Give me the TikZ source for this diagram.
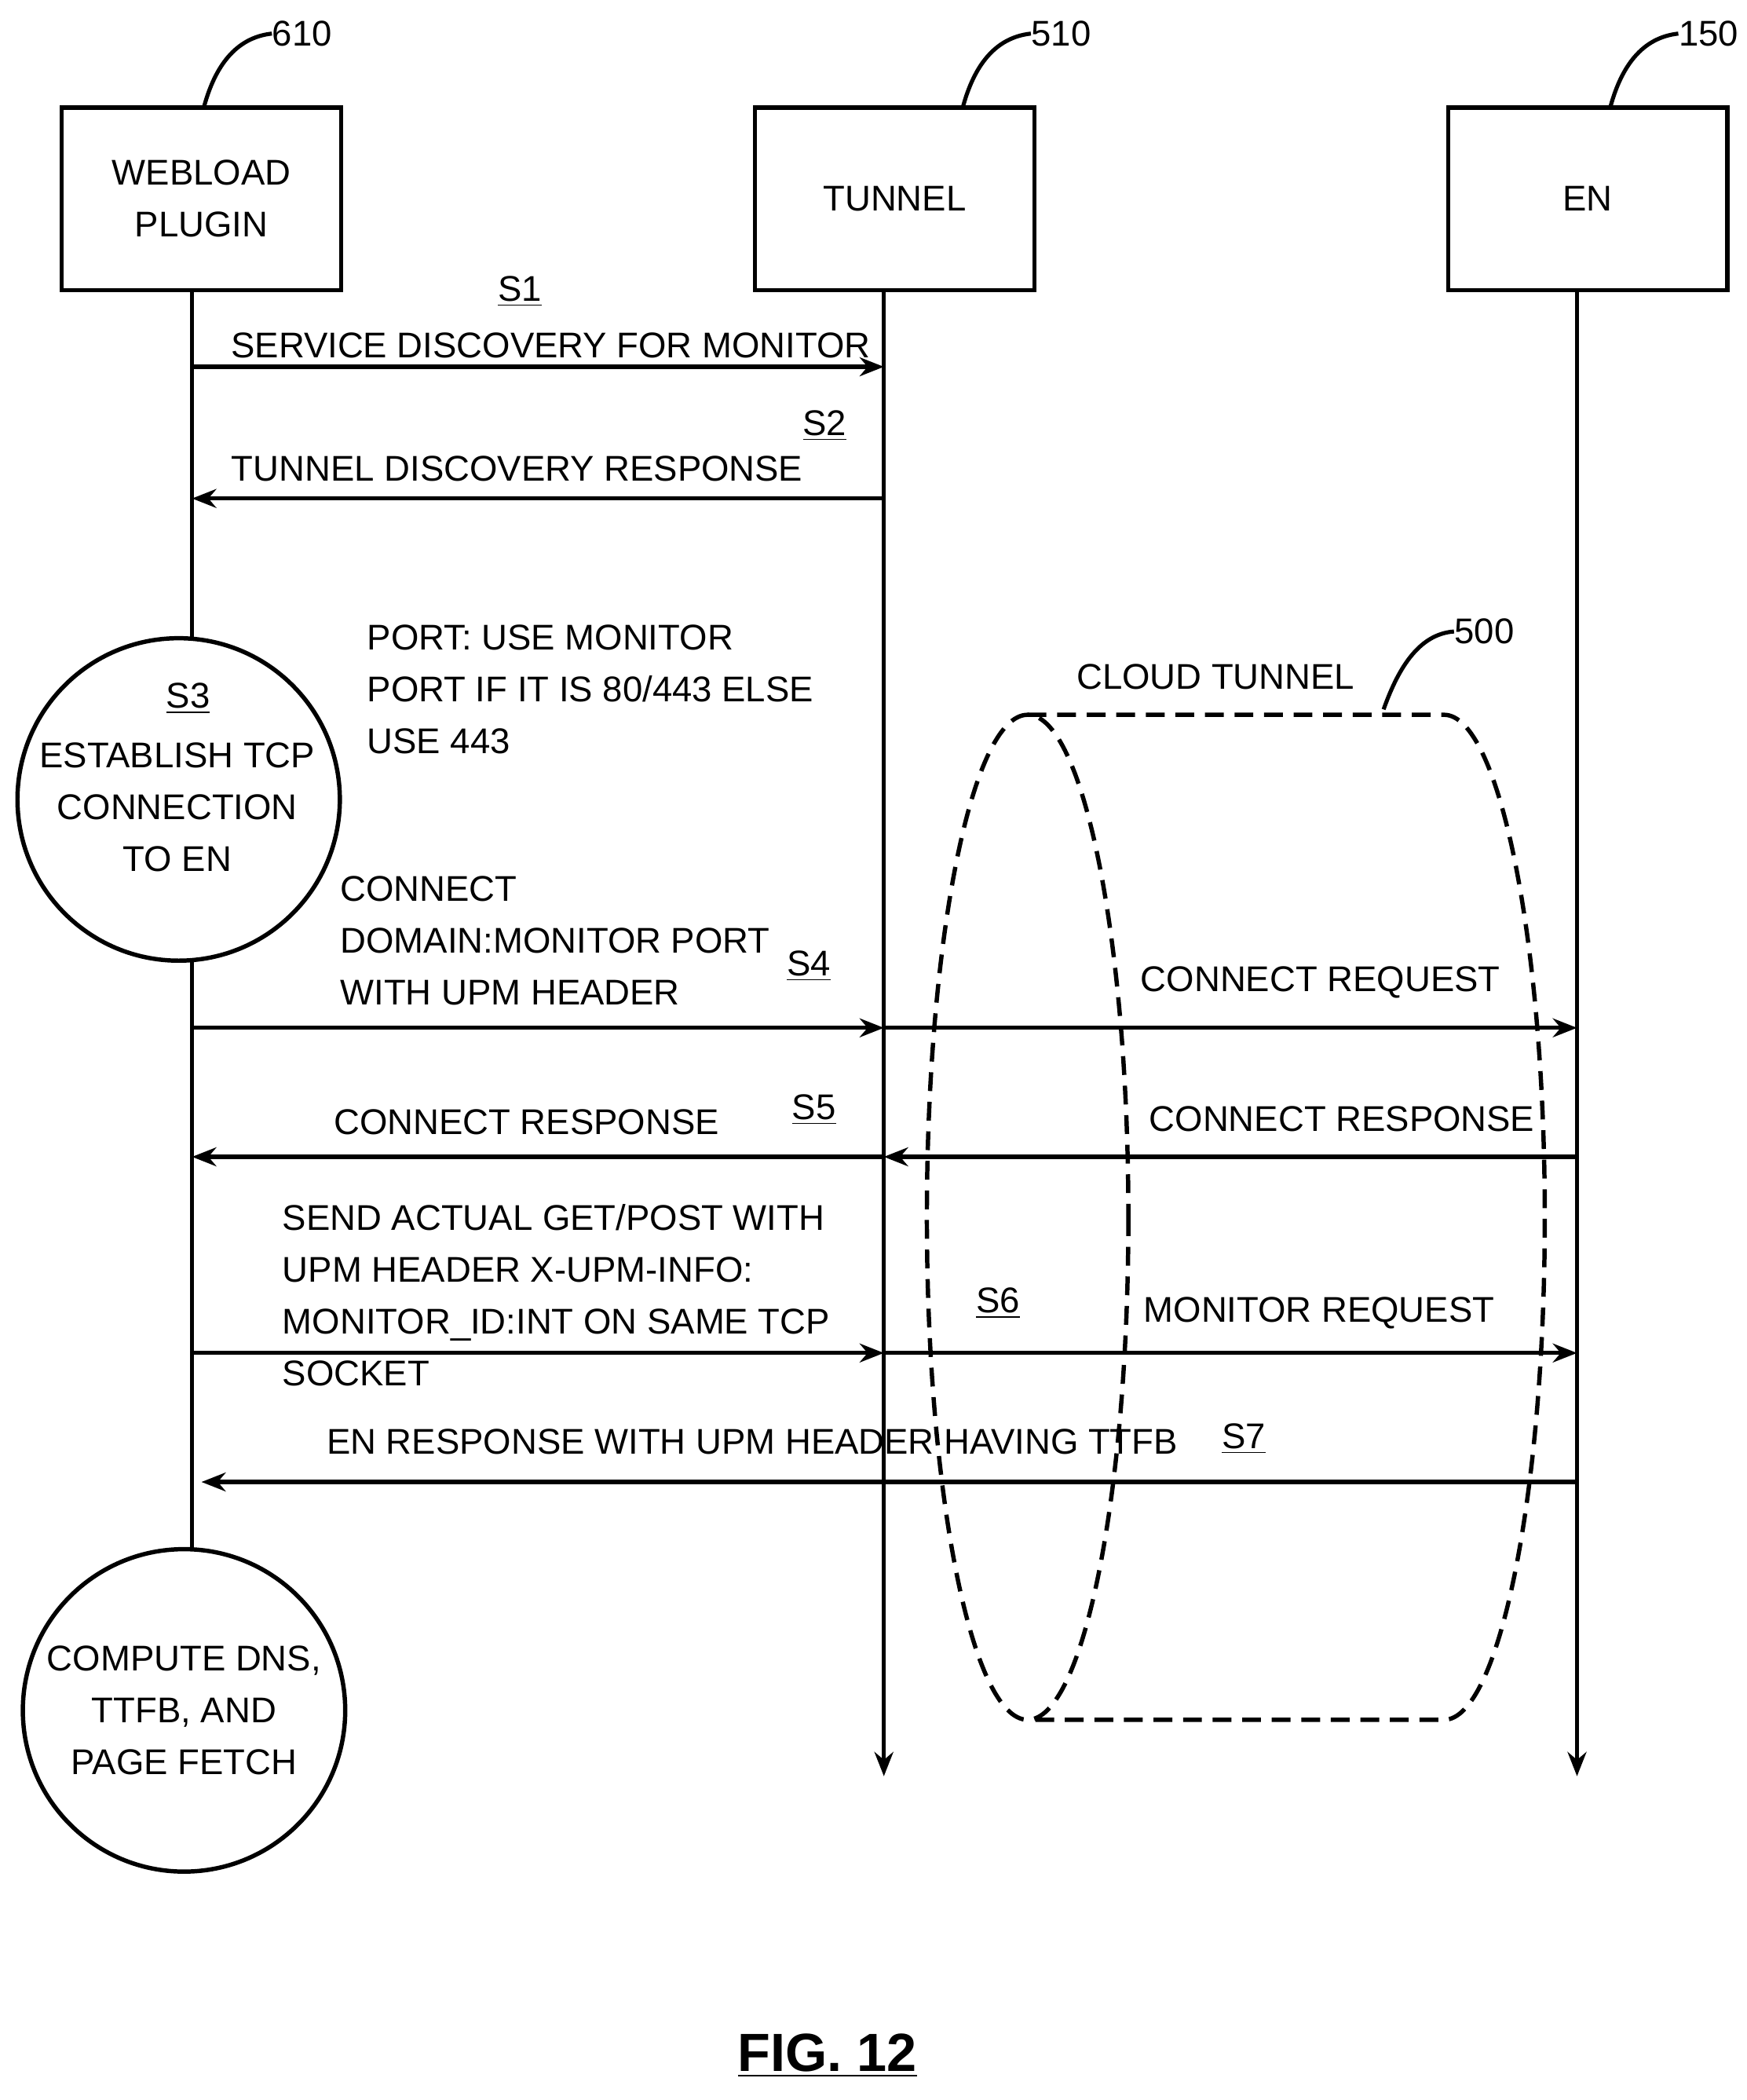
\documentclass[tikz,border=0pt]{standalone}
\usepackage{fontspec}
\setmainfont{Liberation Sans}
\usetikzlibrary{arrows.meta}
\begin{document}
\begin{tikzpicture}[x=0.5pt,y=-0.5pt,
  box/.style={draw,line width=1.6pt,minimum width=104pt,minimum height=68pt,inner sep=0pt,align=center},
  life/.style={line width=1.5pt},
  msg/.style={line width=1.5pt,-{Stealth[length=9pt,width=7pt]}},
  txt/.style={font=\fontsize{13.3}{19.3}\selectfont,inner sep=0pt},
  lbl/.style={font=\fontsize{13.3}{19.3}\selectfont,inner sep=0pt,align=left,anchor=west},
  circ/.style={draw,circle,line width=1.6pt,minimum size=120pt,inner sep=0pt,align=center,font=\fontsize{13.3}{19.3}\selectfont},
  lead/.style={line width=1.5pt},
  dsh/.style={line width=1.6pt,dash pattern=on 7pt off 4pt}]
\useasboundingbox (0,0) rectangle (1300,1563);
% boxes
\node[box,txt] (w) at (150,148) {WEBLOAD\\PLUGIN};
\node[box,txt] (t) at (666,148) {TUNNEL};
\node[box,txt] (e) at (1182,148) {EN};
% reference numerals
\node[txt] (n610) at (225,25) {610};
\node[txt] (n510) at (790,25) {510};
\node[txt] (n150) at (1272,25) {150};
\draw[lead] (152,79) .. controls (160,50) and (175,28) .. (n610.west);
\draw[lead] (717,79) .. controls (725,50) and (740,28) .. (n510.west);
\draw[lead] (1199,79) .. controls (1207,50) and (1222,28) .. (n150.west);
% circles
\node[circ] (c1) at (133,595) {};
\node[txt] (s3) at (140,520) {\underline{S3}};
\node[txt,align=center] (c1t) at (132,601) {ESTABLISH TCP\\CONNECTION\\TO EN};
\node[circ] (c2) at (137,1273) {COMPUTE DNS,\\TTFB, AND\\PAGE FETCH};
% lifelines
\coordinate (wa) at (143,216);
\coordinate (wb) at (143,476);
\coordinate (wc) at (143,714);
\coordinate (wd) at (143,1154);
\draw[life] (wa) -- (wb);
\draw[life] (wc) -- (wd);
\coordinate (ta) at (658,216);
\coordinate (tb) at (658,1322);
\coordinate (ea) at (1174,216);
\coordinate (eb) at (1174,1322);
\draw[msg] (ta) -- (tb);
\draw[msg] (ea) -- (eb);
% message coordinates
\foreach \y/\n in {273/1,371/2,765/4,861/5,1007/6,1103/7}{
  \coordinate (w\n) at (143,\y);
  \coordinate (t\n) at (658,\y);
  \coordinate (e\n) at (1174,\y);
}
\coordinate (w7e) at (150,1103);
\draw[msg] (w1) -- (t1);
\draw[msg] (t2) -- (w2);
\draw[msg] (w4) -- (t4);
\draw[msg] (t4) -- (e4);
\draw[msg] (e5) -- (t5);
\draw[msg] (t5) -- (w5);
\draw[msg] (w6) -- (t6);
\draw[msg] (t6) -- (e6);
\draw[msg] (e7) -- (w7e);
% labels
\node[txt] (l1a) at (387,217) {\underline{S1}};
\node[txt] (l1) at (410,257) {SERVICE DISCOVERY FOR MONITOR};
\node[txt] (l2a) at (614,317) {\underline{S2}};
\node[txt] (l2) at (385,349) {TUNNEL DISCOVERY RESPONSE};
\node[lbl] (port) at (273,513) {PORT: USE MONITOR\\PORT IF IT IS 80/443 ELSE\\USE 443};
\node[lbl] (conn) at (253,700) {CONNECT\\DOMAIN:MONITOR PORT\\WITH UPM HEADER};
\node[txt] (l4a) at (602,719) {\underline{S4}};
\node[txt] (l4) at (983,731) {CONNECT REQUEST};
\node[txt] (l5) at (392,835) {CONNECT RESPONSE};
\node[txt] (l5a) at (606,826) {\underline{S5}};
\node[txt] (l5b) at (999,833) {CONNECT RESPONSE};
\node[lbl] (send) at (210,964) {SEND ACTUAL GET/POST WITH\\UPM HEADER X-UPM-INFO:\\MONITOR\_ID:INT ON SAME TCP\\SOCKET};
\node[txt] (l6a) at (743,970) {\underline{S6}};
\node[txt] (l6) at (982,977) {MONITOR REQUEST};
\node[txt] (l7) at (560,1073) {EN RESPONSE WITH UPM HEADER HAVING TTFB};
\node[txt] (l7a) at (926,1071) {\underline{S7}};
% cloud tunnel
\draw[dsh] (765,906) ellipse [x radius=75, y radius=374];
\coordinate (ct1) at (765,532);
\coordinate (ct2) at (1075,532);
\coordinate (ct3) at (1150,906);
\coordinate (ct4) at (1075,1280);
\coordinate (ct5) at (765,1280);
\draw[dsh] (ct1) -- (ct2) .. controls (1116,532) and (1150,700) .. (ct3)
  .. controls (1150,1112) and (1116,1280) .. (ct4) -- (ct5);
\node[txt] (ct) at (905,504) {CLOUD TUNNEL};
\node[txt] (n500) at (1105,470) {500};
\draw[lead] (1030,528) .. controls (1040,500) and (1055,472) .. (n500.west);
\node[font=\fontsize{20}{24}\selectfont\bfseries,inner sep=0pt] (fig) at (616,1530) {\underline{FIG. 12}};
\end{tikzpicture}
\end{document}
